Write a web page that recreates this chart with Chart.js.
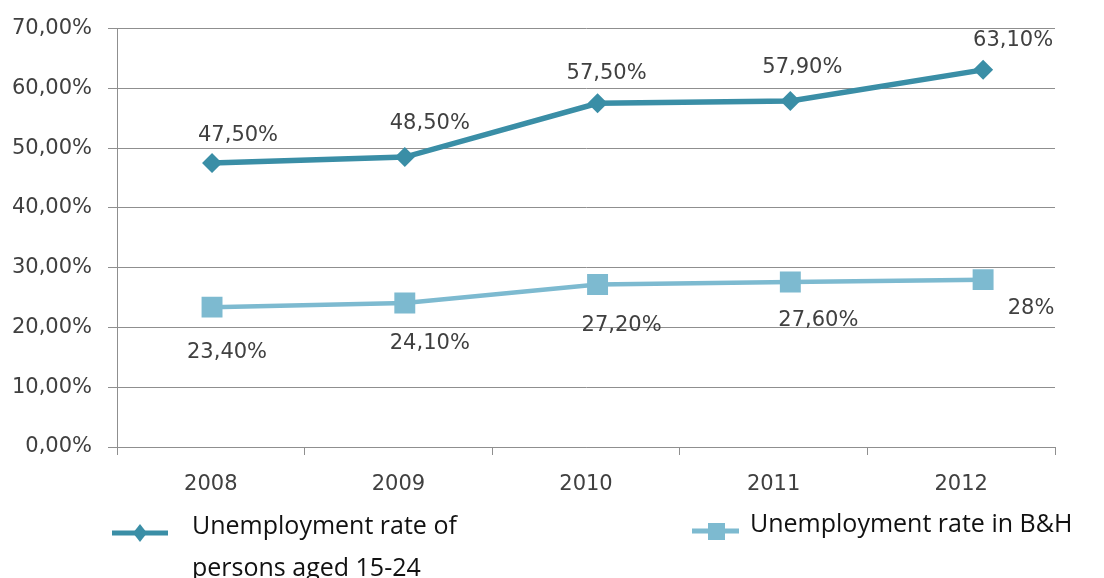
<!DOCTYPE html>
<html>
<head>
<meta charset="utf-8">
<script src="https://cdn.jsdelivr.net/npm/chart.js@4/dist/chart.umd.min.js"></script>
<style>
html,body{margin:0;padding:0;background:#fff;}
#wrap{width:1104px;height:578px;position:relative;overflow:hidden;}
canvas{display:block;}
</style>
</head>
<body>
<div id="wrap"><canvas id="c" width="1104" height="578"></canvas></div>
<script>
// ---- data ----
const categories = ['2008', '2009', '2010', '2011', '2012'];
const youthRate = [47.5, 48.5, 57.5, 57.9, 63.1];
const totalRate = [23.4, 24.1, 27.2, 27.6, 28.0];
const youthLabels = ['47,50%', '48,50%', '57,50%', '57,90%', '63,10%'];
const totalLabels = ['23,40%', '24,10%', '27,20%', '27,60%', '28%'];
const yTicks = [0, 10, 20, 30, 40, 50, 60, 70];
const youthName = ['Unemployment rate of', 'persons aged 15-24'];
const totalName = ['Unemployment rate in B&H'];

// ---- styles ----
const DARK = '#3A8EA6';
const LIGHT = '#7DBAD0';
const GRID = '#8f8f8f';
const TXT = '#404040';
const AXFONT = 'DejaVu Sans';

// label offsets relative to the point (style, not data)
const labelOffsets = [
  [[26, -30], [25, -36], [9, -32], [12, -36], [30, -31]],
  [[15, 43], [25, 38], [24, 39], [28, 36], [48, 27]]
];

const dataLabelPlugin = {
  id: 'dataLabels',
  afterDatasetsDraw(chart) {
    const ctx = chart.ctx;
    const texts = [youthLabels, totalLabels];
    ctx.save();
    ctx.font = '21px "' + AXFONT + '"';
    ctx.fillStyle = TXT;
    ctx.textAlign = 'center';
    ctx.textBaseline = 'alphabetic';
    chart.data.datasets.forEach((ds, di) => {
      const meta = chart.getDatasetMeta(di);
      meta.data.forEach((pt, i) => {
        const off = labelOffsets[di][i];
        ctx.fillText(texts[di][i], pt.x + off[0], pt.y + off[1] + 7.6);
      });
    });
    ctx.restore();
  }
};

const legendPlugin = {
  id: 'customLegend',
  afterDraw(chart) {
    const ctx = chart.ctx;
    ctx.save();
    // item 1
    ctx.strokeStyle = DARK;
    ctx.lineWidth = 5;
    ctx.beginPath();
    ctx.moveTo(112, 533); ctx.lineTo(168, 533); ctx.stroke();
    ctx.fillStyle = DARK;
    ctx.beginPath();
    ctx.moveTo(140, 524); ctx.lineTo(147, 533); ctx.lineTo(140, 542); ctx.lineTo(133, 533);
    ctx.closePath(); ctx.fill();
    // item 2
    ctx.strokeStyle = LIGHT;
    ctx.beginPath();
    ctx.moveTo(692, 531); ctx.lineTo(739, 531); ctx.stroke();
    ctx.fillStyle = LIGHT;
    ctx.fillRect(708, 523, 17, 17);
    // texts
    ctx.font = '25px "Open Sans"';
    ctx.fillStyle = '#111';
    ctx.textAlign = 'left';
    ctx.textBaseline = 'alphabetic';
    youthName.forEach((t, i) => ctx.fillText(t, 192, 534 + i * 42));
    totalName.forEach((t, i) => ctx.fillText(t, 750, 532 + i * 42));
    ctx.restore();
  }
};

new Chart(document.getElementById('c'), {
  type: 'line',
  data: {
    labels: categories,
    datasets: [
      {
        label: youthName.join(' '),
        data: youthRate.map((v, i) => ({ x: i, y: v })),
        xAxisID: 'xp',
        borderColor: DARK,
        backgroundColor: DARK,
        borderWidth: 5.5,
        pointStyle: 'rectRot',
        pointRadius: 10,
        pointBorderWidth: 0,
        pointBackgroundColor: DARK,
        tension: 0,
        fill: false
      },
      {
        label: totalName.join(' '),
        data: totalRate.map((v, i) => ({ x: i, y: v })),
        xAxisID: 'xp',
        borderColor: LIGHT,
        backgroundColor: LIGHT,
        borderWidth: 4.5,
        pointStyle: 'rect',
        pointRadius: 14.8,
        pointBorderWidth: 0,
        pointBackgroundColor: LIGHT,
        tension: 0,
        fill: false
      }
    ]
  },
  options: {
    responsive: false,
    animation: false,
    events: [],
    layout: { padding: { left: 0, right: 49, top: 26, bottom: 0 } },
    plugins: { legend: { display: false }, tooltip: { enabled: false } },
    scales: {
      x: {
        type: 'category',
        position: 'bottom',
        offset: true,
        grid: { display: true, drawOnChartArea: false, drawTicks: true, tickLength: 8, color: GRID, offset: true, lineWidth: 1 },
        border: { display: true, color: GRID, width: 1 },
        ticks: { font: { family: AXFONT, size: 21 }, color: TXT, padding: 17, maxRotation: 0, autoSkip: false },
        afterFit(s) { s.height = 131; }
      },
      xp: {
        type: 'linear',
        position: 'bottom',
        display: false,
        min: -0.493,
        max: 4.373
      },
      y: {
        type: 'linear',
        min: yTicks[0],
        max: yTicks[yTicks.length - 1],
        afterBuildTicks(s) { s.ticks = yTicks.map(v => ({ value: v })); },
        ticks: {
          font: { family: AXFONT, size: 21 },
          color: TXT,
          padding: 16,
          callback: v => v.toFixed(2).replace('.', ',') + '%'
        },
        grid: { color: GRID, tickLength: 9, lineWidth: 1 },
        border: { display: true, color: GRID, width: 1 },
        afterFit(s) { s.width = 117; }
      }
    }
  },
  plugins: [dataLabelPlugin, legendPlugin]
});
</script>
</body>
</html>
